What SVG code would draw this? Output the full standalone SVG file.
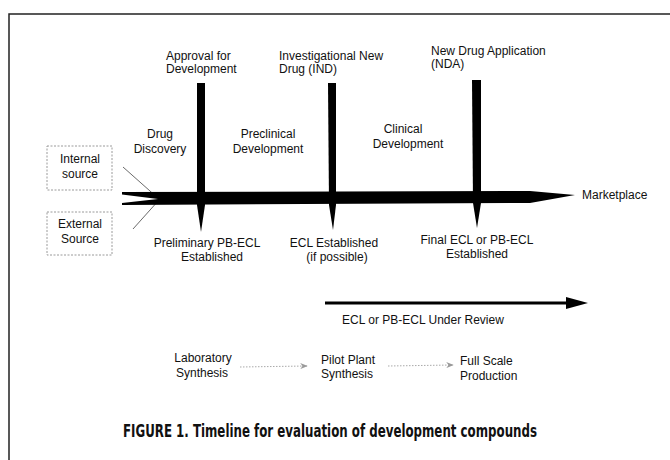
<svg xmlns="http://www.w3.org/2000/svg" width="670" height="460" viewBox="0 0 670 460">
<defs>
<style>
.t{font-family:"Liberation Sans",Arial,sans-serif;font-size:12px;fill:#111}
.m{text-anchor:middle}
.box{fill:none;stroke:#9a9a9a;stroke-width:1;stroke-dasharray:2,1.5}
.thin{stroke:#444;stroke-width:0.8;fill:none}
.dot{stroke:#aaa;stroke-width:1;stroke-dasharray:1.5,1.5;fill:none}
.cap{font-family:"Liberation Sans Narrow","DejaVu Sans Condensed","Liberation Sans",sans-serif;font-weight:bold;font-size:17px;fill:#111}
</style>
<marker id="ga" viewBox="0 0 10 8" refX="9" refY="4" markerWidth="8" markerHeight="6" orient="auto" markerUnits="userSpaceOnUse">
<path d="M0,0 L10,4 L0,8 L3,4 Z" fill="#999"/>
</marker>
</defs>
<rect width="670" height="460" fill="#fff"/>
<g id="frame" stroke="#222" stroke-width="1.5" fill="none">
<path d="M9,460 L9,14 L670,14"/>
</g>
<g id="internal-source">
<rect class="box" x="47" y="146" width="65" height="44"/>
<text class="t m" x="80" y="163">Internal</text>
<text class="t m" x="80" y="178">source</text>
</g>
<g id="external-source">
<rect class="box" x="47" y="212" width="65" height="43"/>
<text class="t m" x="80" y="228">External</text>
<text class="t m" x="80" y="243">Source</text>
</g>
<g id="connectors">
<path class="thin" d="M123,167 L159,199"/>
<path class="thin" d="M133,229 L159,200"/>
<polygon id="timeline" points="122,192 530,191 575,195 530,203 122,205 122,203 158,199 122,194.5" fill="#000"/>
<polygon points="197,83 205,83 205,205 201,232 197,205" fill="#000"/>
<polygon points="328,83 336,83 336,205 333,230 329,205" fill="#000"/>
<polygon points="472,80 481,80 481,203 477,228 473,203" fill="#000"/>
<path d="M325,303 L570,303" stroke="#000" stroke-width="3"/>
<polygon points="566,297 588,303 566,309" fill="#000"/>
<path class="dot" d="M240,367 L307,366" marker-end="url(#ga)"/>
<path class="dot" d="M388,366 L453,365" marker-end="url(#ga)"/>
</g>
<g id="milestone-approval">
<text class="t" x="166" y="60">Approval for</text>
<text class="t" x="166" y="73">Development</text>
</g>
<g id="milestone-ind">
<text class="t" x="279" y="60">Investigational New</text>
<text class="t" x="279" y="73">Drug (IND)</text>
</g>
<g id="milestone-nda">
<text class="t" x="431" y="55">New Drug Application</text>
<text class="t" x="431" y="68">(NDA)</text>
</g>
<g id="phase-discovery">
<text class="t m" x="160" y="138">Drug</text>
<text class="t m" x="160" y="153">Discovery</text>
</g>
<g id="phase-preclinical">
<text class="t m" x="268" y="138">Preclinical</text>
<text class="t m" x="268" y="153">Development</text>
</g>
<g id="phase-clinical">
<text class="t m" x="403" y="133">Clinical</text>
<text class="t m" x="408" y="148">Development</text>
</g>
<g id="marketplace">
<text class="t" x="582" y="199">Marketplace</text>
</g>
<g id="ecl-preliminary">
<text class="t m" x="207" y="247">Preliminary PB-ECL</text>
<text class="t m" x="212" y="261">Established</text>
</g>
<g id="ecl-established">
<text class="t m" x="334" y="247">ECL Established</text>
<text class="t m" x="337" y="261">(if possible)</text>
</g>
<g id="ecl-final">
<text class="t m" x="477" y="244">Final ECL or PB-ECL</text>
<text class="t m" x="477" y="258">Established</text>
</g>
<g id="review">
<text class="t" x="342" y="324">ECL or PB-ECL Under Review</text>
</g>
<g id="lab-synthesis">
<text class="t m" x="203" y="362">Laboratory</text>
<text class="t m" x="202" y="377">Synthesis</text>
</g>
<g id="pilot-plant">
<text class="t" x="321" y="364">Pilot Plant</text>
<text class="t" x="321" y="378">Synthesis</text>
</g>
<g id="full-scale">
<text class="t" x="460" y="365">Full Scale</text>
<text class="t" x="460" y="380">Production</text>
</g>
<text class="cap" x="123" y="437" textLength="414" lengthAdjust="spacingAndGlyphs">FIGURE 1. Timeline for evaluation of development compounds</text>
</svg>
